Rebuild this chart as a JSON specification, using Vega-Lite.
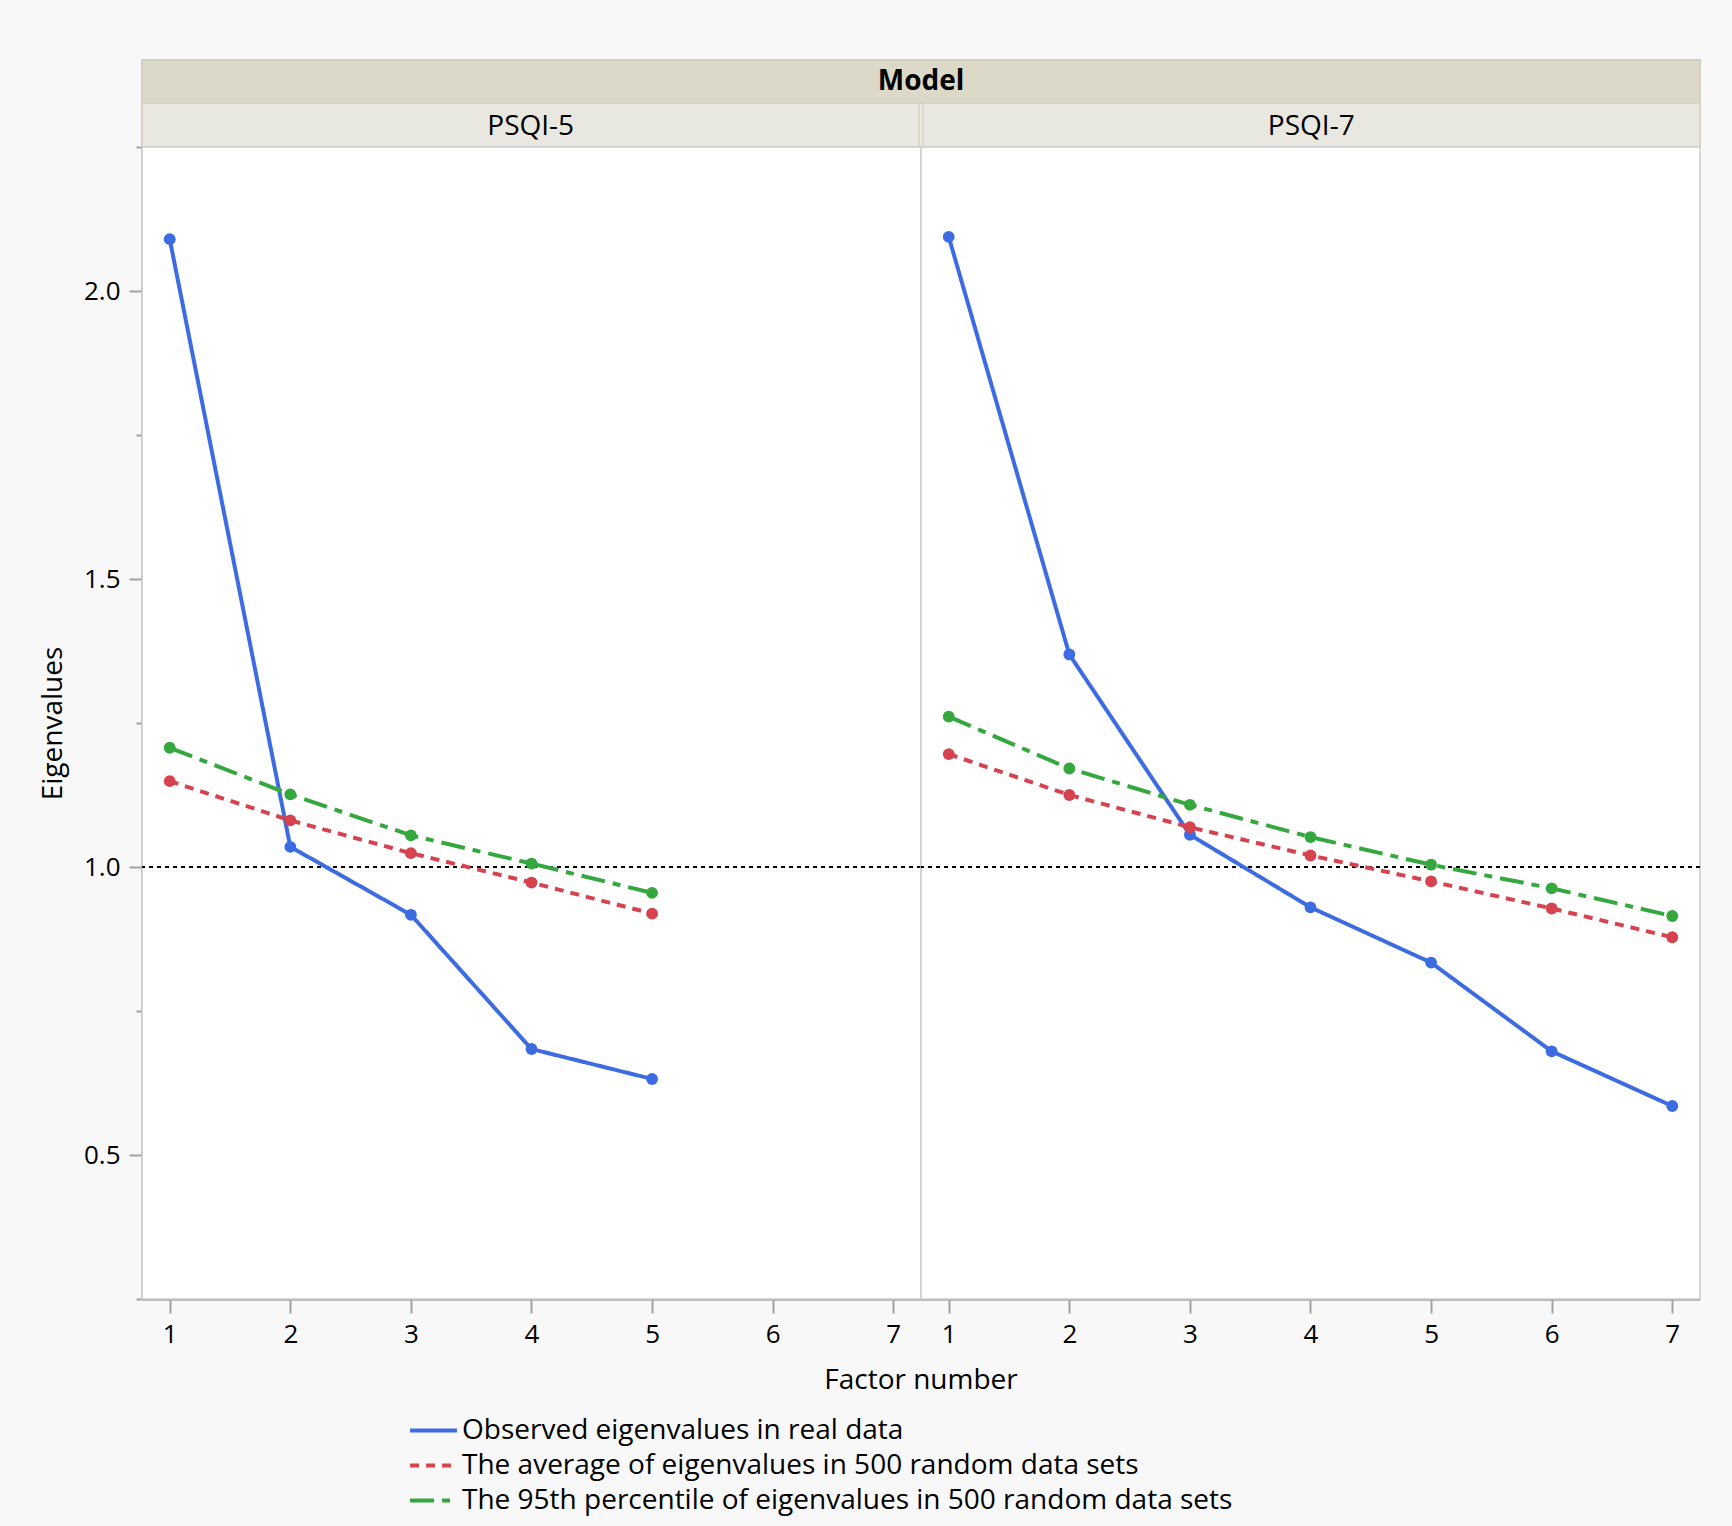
{
  "$schema": "https://vega.github.io/schema/vega-lite/v6.json",
  "background": "#f8f8f8",
  "padding": {"left": 39, "top": 59, "right": 30, "bottom": 10},
  "config": {
    "font": "Open Sans",
    "axis": {
      "labelFontSize": 26,
      "titleFontSize": 28,
      "titleFontWeight": "normal",
      "labelColor": "black",
      "titleColor": "black",
      "domainColor": "#a3a3a3",
      "domainWidth": 2.5,
      "tickColor": "#a3a3a3",
      "tickWidth": 2,
      "grid": false
    }
  },
  "datasets": {
    "eig": [
      {"Model": "PSQI-5", "Factor": 1, "Series": "Observed eigenvalues in real data", "Eigenvalue": 2.090},
      {"Model": "PSQI-5", "Factor": 2, "Series": "Observed eigenvalues in real data", "Eigenvalue": 1.035},
      {"Model": "PSQI-5", "Factor": 3, "Series": "Observed eigenvalues in real data", "Eigenvalue": 0.917},
      {"Model": "PSQI-5", "Factor": 4, "Series": "Observed eigenvalues in real data", "Eigenvalue": 0.684},
      {"Model": "PSQI-5", "Factor": 5, "Series": "Observed eigenvalues in real data", "Eigenvalue": 0.632},
      {"Model": "PSQI-5", "Factor": 1, "Series": "The average of eigenvalues in 500 random data sets", "Eigenvalue": 1.149},
      {"Model": "PSQI-5", "Factor": 2, "Series": "The average of eigenvalues in 500 random data sets", "Eigenvalue": 1.081},
      {"Model": "PSQI-5", "Factor": 3, "Series": "The average of eigenvalues in 500 random data sets", "Eigenvalue": 1.024},
      {"Model": "PSQI-5", "Factor": 4, "Series": "The average of eigenvalues in 500 random data sets", "Eigenvalue": 0.973},
      {"Model": "PSQI-5", "Factor": 5, "Series": "The average of eigenvalues in 500 random data sets", "Eigenvalue": 0.919},
      {"Model": "PSQI-5", "Factor": 1, "Series": "The 95th percentile of eigenvalues in 500 random data sets", "Eigenvalue": 1.207},
      {"Model": "PSQI-5", "Factor": 2, "Series": "The 95th percentile of eigenvalues in 500 random data sets", "Eigenvalue": 1.126},
      {"Model": "PSQI-5", "Factor": 3, "Series": "The 95th percentile of eigenvalues in 500 random data sets", "Eigenvalue": 1.055},
      {"Model": "PSQI-5", "Factor": 4, "Series": "The 95th percentile of eigenvalues in 500 random data sets", "Eigenvalue": 1.006},
      {"Model": "PSQI-5", "Factor": 5, "Series": "The 95th percentile of eigenvalues in 500 random data sets", "Eigenvalue": 0.955},
      {"Model": "PSQI-7", "Factor": 1, "Series": "Observed eigenvalues in real data", "Eigenvalue": 2.094},
      {"Model": "PSQI-7", "Factor": 2, "Series": "Observed eigenvalues in real data", "Eigenvalue": 1.369},
      {"Model": "PSQI-7", "Factor": 3, "Series": "Observed eigenvalues in real data", "Eigenvalue": 1.056},
      {"Model": "PSQI-7", "Factor": 4, "Series": "Observed eigenvalues in real data", "Eigenvalue": 0.930},
      {"Model": "PSQI-7", "Factor": 5, "Series": "Observed eigenvalues in real data", "Eigenvalue": 0.834},
      {"Model": "PSQI-7", "Factor": 6, "Series": "Observed eigenvalues in real data", "Eigenvalue": 0.680},
      {"Model": "PSQI-7", "Factor": 7, "Series": "Observed eigenvalues in real data", "Eigenvalue": 0.585},
      {"Model": "PSQI-7", "Factor": 1, "Series": "The average of eigenvalues in 500 random data sets", "Eigenvalue": 1.196},
      {"Model": "PSQI-7", "Factor": 2, "Series": "The average of eigenvalues in 500 random data sets", "Eigenvalue": 1.125},
      {"Model": "PSQI-7", "Factor": 3, "Series": "The average of eigenvalues in 500 random data sets", "Eigenvalue": 1.069},
      {"Model": "PSQI-7", "Factor": 4, "Series": "The average of eigenvalues in 500 random data sets", "Eigenvalue": 1.020},
      {"Model": "PSQI-7", "Factor": 5, "Series": "The average of eigenvalues in 500 random data sets", "Eigenvalue": 0.975},
      {"Model": "PSQI-7", "Factor": 6, "Series": "The average of eigenvalues in 500 random data sets", "Eigenvalue": 0.928},
      {"Model": "PSQI-7", "Factor": 7, "Series": "The average of eigenvalues in 500 random data sets", "Eigenvalue": 0.878},
      {"Model": "PSQI-7", "Factor": 1, "Series": "The 95th percentile of eigenvalues in 500 random data sets", "Eigenvalue": 1.261},
      {"Model": "PSQI-7", "Factor": 2, "Series": "The 95th percentile of eigenvalues in 500 random data sets", "Eigenvalue": 1.171},
      {"Model": "PSQI-7", "Factor": 3, "Series": "The 95th percentile of eigenvalues in 500 random data sets", "Eigenvalue": 1.108},
      {"Model": "PSQI-7", "Factor": 4, "Series": "The 95th percentile of eigenvalues in 500 random data sets", "Eigenvalue": 1.052},
      {"Model": "PSQI-7", "Factor": 5, "Series": "The 95th percentile of eigenvalues in 500 random data sets", "Eigenvalue": 1.004},
      {"Model": "PSQI-7", "Factor": 6, "Series": "The 95th percentile of eigenvalues in 500 random data sets", "Eigenvalue": 0.963},
      {"Model": "PSQI-7", "Factor": 7, "Series": "The 95th percentile of eigenvalues in 500 random data sets", "Eigenvalue": 0.915}
    ]
  },
  "bounds": "flush",
  "spacing": 0,
  "vconcat": [
    {
      "data": {"values": [{"Title": "Model"}]},
      "width": 1558,
      "height": 43,
      "view": {"fill": "#dcd9c9", "stroke": "#d3d0bf", "strokeWidth": 2},
      "mark": {"type": "text", "fontSize": 28, "fontWeight": "bold", "color": "black"},
      "encoding": {"text": {"field": "Title"}}
    },
    {
      "data": {"name": "eig"},
      "transform": [{"aggregate": [{"op": "count", "as": "n"}], "groupby": ["Model"]}],
      "width": 1558,
      "height": 44,
      "view": {"stroke": null},
      "encoding": {
        "x": {"field": "Model", "type": "nominal", "axis": null, "scale": {"paddingInner": 0.004, "paddingOuter": 0}}
      },
      "layer": [
        {"mark": {"type": "rect", "fill": "#e9e8e0", "stroke": "#d8d5c6", "strokeWidth": 2}},
        {"mark": {"type": "text", "fontSize": 28, "color": "black", "dy": 2}, "encoding": {"text": {"field": "Model"}}}
      ]
    },
    {
      "data": {"name": "eig"},
      "facet": {
        "column": {
          "field": "Model",
          "title": "Factor number",
          "header": {"labels": false, "titleOrient": "bottom", "titleFontSize": 28, "titleFontWeight": "normal", "titleColor": "black", "titlePadding": 10}
        }
      },
      "spacing": 0,
      "bounds": "flush",
      "spec": {
        "width": 779,
        "height": 1152,
        "view": {"fill": "white", "stroke": "#cdcdcd", "strokeWidth": 1.5},
        "layer": [
          {
            "mark": {"type": "rule", "color": "black", "strokeDash": [4, 4], "strokeWidth": 1.5},
            "encoding": {"y": {"datum": 1, "type": "quantitative", "title": "Eigenvalues"}}
          },
          {
            "mark": {"type": "line", "strokeWidth": 4, "point": {"filled": true, "size": 140}},
            "encoding": {
              "x": {
                "field": "Factor",
                "type": "quantitative",
                "scale": {"domain": [0.77, 7.23], "nice": false},
                "axis": {"values": [1, 2, 3, 4, 5, 6, 7], "title": null, "tickSize": 14, "labelPadding": 8}
              },
              "y": {
                "field": "Eigenvalue",
                "type": "quantitative",
                "title": "Eigenvalues",
                "scale": {"domain": [0.25, 2.25], "nice": false, "zero": false},
                "axis": {
                  "values": [0.25, 0.5, 0.75, 1, 1.25, 1.5, 1.75, 2, 2.25],
                  "labelExpr": "datum.value % 0.5 == 0 ? format(datum.value, '.1f') : ''",
                  "tickSize": {"condition": {"test": "datum.value % 0.5 == 0", "value": 13}, "value": 6},
                  "labelPadding": 9,
                  "titlePadding": 16
                }
              },
              "color": {
                "field": "Series",
                "type": "nominal",
                "scale": {
                  "domain": ["Observed eigenvalues in real data", "The average of eigenvalues in 500 random data sets", "The 95th percentile of eigenvalues in 500 random data sets"],
                  "range": ["#3d6ce2", "#d6434f", "#34a83f"]
                },
                "legend": {
                  "title": null,
                  "orient": "none",
                  "legendX": 266,
                  "legendY": 1353,
                  "labelFontSize": 28,
                  "labelColor": "black",
                  "labelLimit": 0,
                  "labelOffset": 3,
                  "symbolType": "stroke",
                  "symbolSize": 2200,
                  "symbolStrokeWidth": 4,
                  "clipHeight": 35,
                  "rowPadding": 0
                }
              },
              "strokeDash": {
                "field": "Series",
                "type": "nominal",
                "scale": {
                  "domain": ["Observed eigenvalues in real data", "The average of eigenvalues in 500 random data sets", "The 95th percentile of eigenvalues in 500 random data sets"],
                  "range": [[1, 0], [9, 7], [24, 8, 8, 8]]
                }
              }
            }
          }
        ]
      }
    }
  ]
}
